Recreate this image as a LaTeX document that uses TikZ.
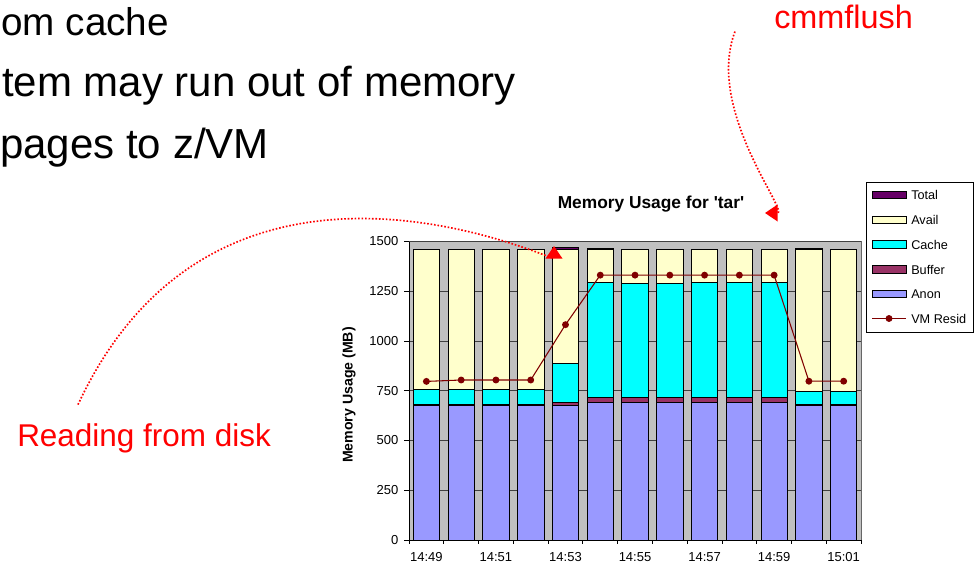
\documentclass[tikz,border=0pt]{standalone}
\usepackage{fontspec}
\setmainfont{Liberation Sans}
\newfontfamily\chartfont{Liberation Sans}
\usetikzlibrary{arrows.meta}
\definecolor{availc}{HTML}{FFFFCC}
\definecolor{cachec}{HTML}{00FFFF}
\definecolor{bufc}{HTML}{993366}
\definecolor{anonc}{HTML}{9999FF}
\definecolor{totc}{HTML}{660066}
\definecolor{residc}{HTML}{800000}
\definecolor{plotbg}{HTML}{C0C0C0}

\begin{document}
\begin{tikzpicture}[x=0.75pt, y=-0.75pt, >=Stealth,
  seg/.style={draw=black, line width=0.6pt},
  resid/.style={residc, line width=0.8pt},
  callout/.style={red, line width=1.25pt, dash pattern=on 1.2pt off 1.4pt,
    -{Triangle[length=9.5pt, width=12.5pt]}},
  bullet/.style={anchor=base west, inner sep=0pt, font=\fontsize{31.5}{36}\selectfont},
  note/.style={anchor=base west, inner sep=0pt, red},
  axlabel/.style={inner sep=0pt, font=\chartfont\fontsize{9.75}{11}\selectfont},
  legtext/.style={anchor=west, inner sep=0pt, font=\chartfont\fontsize{9.5}{11}\selectfont}]
  \clip (0,0) rectangle (974,566);

  \node[bullet, font=\fontsize{29}{34}\selectfont] (b1) at (1,36) {om cache};
  \node[bullet] (b2) at (2,97) {tem may run out of memory};
  \node[bullet] (b3) at (0,159) {pages to z/VM};

  \node[note, font=\fontsize{23.6}{28}\selectfont] (rd) at (17,446.7) {Reading from disk};
  \node[note, font=\fontsize{24.3}{28}\selectfont] (cf) at (774,28.3) {cmmflush};

  \node[font=\chartfont\bfseries\fontsize{13}{15}\selectfont] (ttl) at (651,204) {Memory Usage for 'tar'};
  \node[rotate=90, font=\chartfont\bfseries\fontsize{10.6}{12}\selectfont] (ylab) at (349,395) {Memory Usage (MB)};

  \begin{scope}[shift={(409,540)}, x=26.08pt, y=0.14925pt]
    \fill[plotbg] (0,0) rectangle (13,1500);
    \draw[gray!80!black, line width=0.6pt] (0,1500) -- (13,1500) -- (13,0);
    \foreach \v in {250,500,...,1500}
      \draw[black!75, line width=0.5pt] (0,\v) -- (13,\v);
    \foreach \i/\an/\bu/\ca/\av/\tot/\vm in {
        0/677/679/756/1460/1461/797, 1/677/679/756/1460/1461/804,
        2/677/679/756/1460/1461/804, 3/677/679/756/1460/1461/804,
        4/676/691/886/1460/1470/1082, 5/689/717/1293/1460/1466/1331,
        6/689/717/1287/1460/1461/1331, 7/689/717/1287/1460/1461/1331,
        8/689/717/1293/1460/1461/1331, 9/689/717/1293/1460/1461/1331,
        10/689/717/1293/1460/1461/1331, 11/677/679/747/1460/1466/798,
        12/677/679/747/1460/1461/798} {
      \filldraw[seg, fill=anonc] (\i+0.12,0) rectangle (\i+0.88,\an);
      \filldraw[seg, fill=bufc] (\i+0.12,\an) rectangle (\i+0.88,\bu);
      \filldraw[seg, fill=cachec] (\i+0.12,\bu) rectangle (\i+0.88,\ca);
      \filldraw[seg, fill=availc] (\i+0.12,\ca) rectangle (\i+0.88,\av);
      \filldraw[seg, fill=totc] (\i+0.12,\av) rectangle (\i+0.88,\tot);
      \coordinate (r\i) at (\i+0.5,\vm);
    }
    \draw[black, line width=0.6pt] (0,1500) -- (0,0) -- (13,0);
    \foreach \v in {0,250,...,1500} {
      \draw[black, line width=0.6pt] (0,\v) -- ++(-4pt,0);
      \node[axlabel, anchor=east] (yt\v) at (-0.3,\v) {\v};
    }
    \foreach \i in {0,...,13}
      \draw[black, line width=0.6pt] (\i,0) -- ++(0,-3pt);
    \foreach \i/\t in {0/14:49, 2/14:51, 4/14:53, 6/14:55, 8/14:57, 10/14:59, 12/15:01}
      \node[axlabel] (xt\i) at (\i+0.5,-85) {\t};
    \draw[resid] (r0) \foreach \i in {1,...,12} {-- (r\i)};
    \foreach \i in {0,...,12}
      \fill[residc] (r\i) circle[radius=2.6pt];
  \end{scope}

  \draw[black, line width=0.6pt, fill=white] (866,182) rectangle (973,332);
  \foreach \y/\c/\t in {195/totc/Total, 220/availc/Avail, 244.5/cachec/Cache,
      269.5/bufc/Buffer, 294/anonc/Anon} {
    \filldraw[seg, fill=\c] (872,\y-3.7) rectangle (906,\y+3.7);
    \node[legtext] (leg-\t) at (911,\y) {\t};
  }
  \draw[resid] (872,318.5) -- (906,318.5);
  \fill[residc] (889,318.5) circle[radius=2.6pt];
  \node[legtext] (leg-resid) at (911,318.5) {VM Resid};

  \coordinate (tipA) at (554,246);
  \coordinate (tipB) at (765,213);
  \draw[callout] ([shift={(61,-19)}]rd.north west) .. controls (220,100) and (554,262) .. (tipA);
  \draw[callout] ([shift={(-39,27)}]cf.north west) .. controls (705,110) and (790,213) .. (tipB);
\end{tikzpicture}
\end{document}
